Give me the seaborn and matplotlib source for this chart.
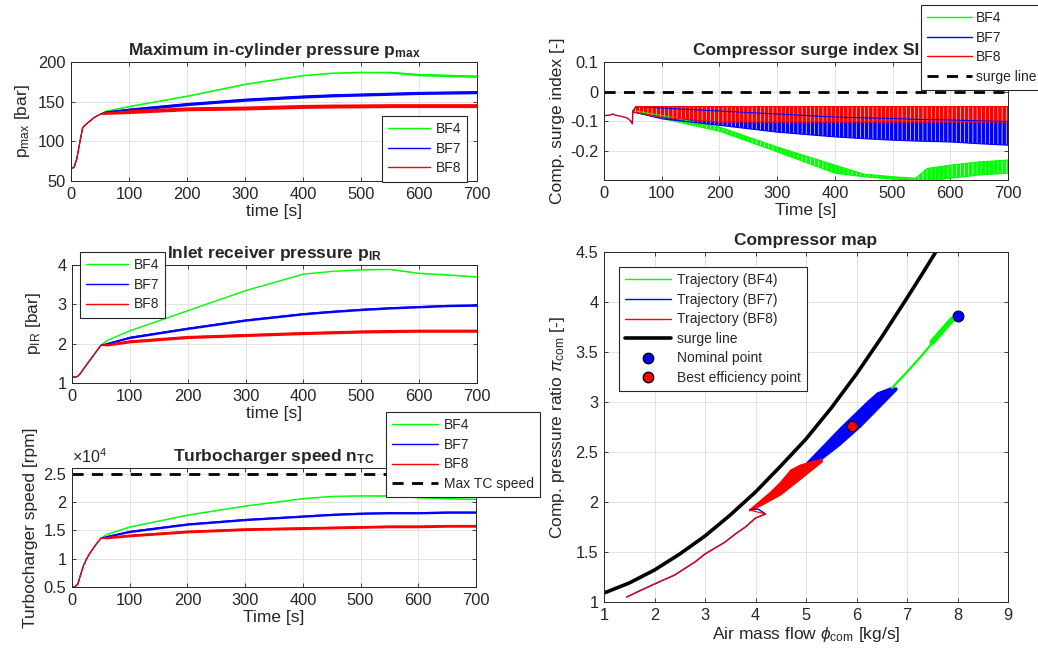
import numpy as np
import matplotlib
matplotlib.use("Agg")
import matplotlib.pyplot as plt
import seaborn as sns
from matplotlib.lines import Line2D

# Values
GREEN, BLUE, RED = "#00ff00", "#0000ff", "#ff0000"

t = [0, 5, 10, 15, 20, 25, 30, 40, 50, 60, 100, 200, 300, 400, 450, 500, 550, 600, 650, 700]
no_rip = [0, 0, 0, 0, 0, 0, 0, 0, 0]

# maximum in-cylinder pressure [bar]: mid line + half height of the ripple
pmax_rise = [66, 67, 78, 98, 117, 121, 124, 130, 134]
pmax_bf4 = pmax_rise + [138, 144, 157, 172, 183, 186, 187, 187, 184, 183, 182]
pmax_bf7 = pmax_rise + [137, 140, 147, 152.5, 156.5, 158, 159, 160, 161, 161.5, 162]
pmax_bf8 = pmax_rise + [136, 137.5, 141, 142, 144, 144.5, 144.7, 145, 145, 145, 145]
pmax_bf4_rip = no_rip + [0.5, 0.5, 0.5, 0.5, 0.5, 0.5, 0.5, 1, 1.5, 1.5, 1.5]
pmax_bf7_rip = no_rip + [1.5, 2, 2, 2, 2, 2, 2, 2, 2, 2, 2]
pmax_bf8_rip = no_rip + [2, 2.5, 2.5, 2.5, 2.5, 2.5, 2.5, 2.5, 2.5, 2.5, 2.5]

# inlet receiver pressure [bar]
pir_rise = [1.15, 1.15, 1.17, 1.25, 1.36, 1.46, 1.56, 1.76, 1.96]
pir_bf4 = pir_rise + [2.08, 2.33, 2.84, 3.35, 3.77, 3.84, 3.88, 3.89, 3.79, 3.75, 3.70]
pir_bf7 = pir_rise + [2.0, 2.16, 2.39, 2.6, 2.76, 2.82, 2.87, 2.91, 2.94, 2.97, 2.98]
pir_bf8 = pir_rise + [1.97, 2.06, 2.17, 2.22, 2.27, 2.29, 2.31, 2.32, 2.33, 2.33, 2.33]
pir_bf4_rip = no_rip + [0.005, 0.005, 0.005, 0.005, 0.005, 0.005, 0.005, 0.01, 0.01, 0.01, 0.01]
pir_bf7_rip = no_rip + [0.02, 0.03, 0.03, 0.03, 0.03, 0.03, 0.03, 0.03, 0.03, 0.03, 0.03]
pir_bf8_rip = no_rip + [0.03, 0.04, 0.04, 0.04, 0.04, 0.04, 0.04, 0.04, 0.04, 0.04, 0.04]

# turbocharger speed [x1e4 rpm]
ntc_rise = [0.5, 0.5, 0.55, 0.72, 0.88, 0.99, 1.08, 1.23, 1.36]
ntc_bf4 = ntc_rise + [1.43, 1.56, 1.77, 1.93, 2.06, 2.10, 2.11, 2.11, 2.08, 2.06, 2.05]
ntc_bf7 = ntc_rise + [1.39, 1.48, 1.61, 1.69, 1.75, 1.78, 1.80, 1.81, 1.81, 1.82, 1.82]
ntc_bf8 = ntc_rise + [1.37, 1.41, 1.48, 1.52, 1.54, 1.55, 1.56, 1.57, 1.57, 1.58, 1.58]
ntc_bf4_rip = no_rip + [0.005, 0.005, 0.005, 0.005, 0.005, 0.005, 0.005, 0.008, 0.008, 0.008, 0.008]
ntc_bf7_rip = no_rip + [0.015, 0.02, 0.02, 0.02, 0.02, 0.02, 0.02, 0.02, 0.02, 0.02, 0.02]
ntc_bf8_rip = no_rip + [0.02, 0.025, 0.025, 0.025, 0.025, 0.025, 0.025, 0.025, 0.025, 0.025, 0.025]
max_tc_speed = 2.49

# compressor surge index [-]
si_t_pre = [0, 10, 15, 20, 30, 40, 46, 49, 50]
si_pre = [-0.08, -0.079, -0.075, -0.079, -0.083, -0.088, -0.098, -0.108, -0.065]
si_t = [50, 55, 100, 200, 300, 400, 450, 500, 540, 560, 600, 650, 700]
si_bf4_hi = [-0.065, -0.065, -0.08, -0.119, -0.186, -0.247, -0.277, -0.286, -0.291, -0.258, -0.247, -0.236, -0.23]
si_bf4_lo = [-0.07, -0.07, -0.09, -0.133, -0.202, -0.274, -0.286, -0.294, -0.297, -0.3, -0.291, -0.28, -0.274]
si_bf7_hi = [-0.065, -0.05, -0.055, -0.065, -0.075, -0.085, -0.088, -0.09, -0.093, -0.094, -0.095, -0.098, -0.1]
si_bf7_lo = [-0.07, -0.07, -0.091, -0.113, -0.136, -0.152, -0.158, -0.163, -0.166, -0.167, -0.169, -0.175, -0.18]
si_bf8_hi = [-0.065, -0.05, -0.05, -0.05, -0.05, -0.05, -0.05, -0.05, -0.05, -0.05, -0.05, -0.05, -0.05]
si_bf8_lo = [-0.07, -0.07, -0.086, -0.102, -0.102, -0.102, -0.102, -0.102, -0.102, -0.102, -0.102, -0.102, -0.102]

# compressor map
surge_x = [1.0, 1.5, 2.0, 2.5, 3.0, 3.5, 4.0, 4.5, 5.0, 5.5, 6.0, 6.5, 7.0, 7.3, 7.57]
surge_y = [1.09, 1.19, 1.32, 1.48, 1.66, 1.87, 2.10, 2.36, 2.63, 2.94, 3.28, 3.65, 4.04, 4.28, 4.5]
start_x = [1.45, 1.7, 2.0, 2.4, 2.8, 3.0, 3.4, 3.6, 3.8, 4.0, 4.2, 4.05, 3.9]
start_y = [1.05, 1.11, 1.18, 1.27, 1.40, 1.48, 1.60, 1.68, 1.75, 1.84, 1.88, 1.93, 1.92]
bf4_map_x = [6.7, 7.0, 7.3, 7.55, 7.8, 8.0]
bf4_map_y = [3.14, 3.30, 3.47, 3.62, 3.76, 3.86]
bf4_thick_x = [7.5, 7.9]
bf4_thick_y = [3.60, 3.83]
bf7_up_x = [5.0, 5.03, 5.68, 6.21, 6.41, 6.67, 6.80]
bf7_up_y = [2.38, 2.40, 2.74, 3.00, 3.09, 3.14, 3.14]
bf7_lo_x = [5.0, 5.16, 5.35, 5.68, 6.08, 6.47, 6.80]
bf7_lo_y = [2.37, 2.40, 2.44, 2.57, 2.75, 2.95, 3.12]
bf8_up_x = [3.88, 4.3, 4.5, 4.7, 4.89, 5.1, 5.32]
bf8_up_y = [1.92, 2.10, 2.20, 2.32, 2.37, 2.40, 2.43]
bf8_lo_x = [3.88, 4.1, 4.5, 4.9, 5.32]
bf8_lo_y = [1.91, 1.96, 2.07, 2.23, 2.40]
nominal_point = (8.0, 3.86)
best_eff_point = (5.91, 2.76)

# ---- style ----
sns.set_theme(style="whitegrid")
plt.rcParams.update({
    "font.family": ["Liberation Sans", "DejaVu Sans"],
    "mathtext.fontset": "custom",
    "mathtext.rm": "Liberation Sans",
    "mathtext.it": "Liberation Sans:italic",
    "mathtext.bf": "Liberation Sans:bold",
    "font.size": 11.5,
    "axes.edgecolor": "#262626",
    "axes.linewidth": 0.7,
    "axes.labelcolor": "#262626",
    "axes.labelsize": 12.5,
    "xtick.color": "#262626",
    "ytick.color": "#262626",
    "xtick.labelsize": 11.8,
    "ytick.labelsize": 11.8,
    "grid.color": "#e3e3e3",
    "grid.linewidth": 0.7,
    "hatch.linewidth": 0.45,
    "legend.fontsize": 10,
    "legend.frameon": True,
    "legend.fancybox": False,
    "legend.edgecolor": "#262626",
    "legend.framealpha": 1.0,
})

W, H = 1038, 654
fig = plt.figure(figsize=(W / 100, H / 100), dpi=100)


def box(x0, y0, x1, y1):
    return [x0 / W, 1 - y1 / H, (x1 - x0) / W, (y1 - y0) / H]


def style(ax):
    ax.tick_params(direction="in", length=3, top=True, right=True, pad=4,
                   width=0.6, bottom=True, left=True)
    for sp in ax.spines.values():
        sp.set_linewidth(0.7)
        sp.set_color("#262626")


def rippled(ax, x, mid, rip, color, lw=0.9):
    mid = np.asarray(mid, float)
    rip = np.asarray(rip, float)
    ax.fill_between(x, mid - rip, mid + rip, color=color, lw=0)
    sns.lineplot(x=x, y=mid, color=color, lw=lw, ax=ax, legend=False)


def legend_at(ax, handles, x, y, **kw):
    opts = dict(loc="upper left", bbox_to_anchor=(x / W, 1 - y / H),
                bbox_transform=fig.transFigure, borderaxespad=0, handlelength=3.0,
                handletextpad=0.4, labelspacing=0.4, borderpad=0.45)
    opts.update(kw)
    leg = ax.legend(handles=handles, **opts)
    leg.get_frame().set_linewidth(0.8)
    return leg


def bf_handles(extra=None):
    hs = [Line2D([], [], color=GREEN, lw=1, label="BF4"),
          Line2D([], [], color=BLUE, lw=1, label="BF7"),
          Line2D([], [], color=RED, lw=1, label="BF8")]
    if extra:
        hs.append(extra)
    return hs


time_ticks = [0, 100, 200, 300, 400, 500, 600, 700]
title_kw = dict(fontsize=12.5, fontweight="bold", pad=5)

# --- Maximum in-cylinder pressure ---
ax1 = fig.add_axes(box(71, 62, 477, 181))
rippled(ax1, t, pmax_bf4, pmax_bf4_rip, GREEN)
rippled(ax1, t, pmax_bf7, pmax_bf7_rip, BLUE)
rippled(ax1, t, pmax_bf8, pmax_bf8_rip, RED)
ax1.set_xlim(0, 700)
ax1.set_ylim(50, 200)
ax1.set_xticks(time_ticks)
ax1.set_yticks([50, 100, 150, 200])
ax1.set_xlabel("time [s]", labelpad=2)
ax1.set_ylabel(r"p$_{\mathrm{max}}$ [bar]", labelpad=4)
ax1.set_title(r"Maximum in-cylinder pressure p$_{\mathbf{max}}$", **title_kw)
style(ax1)
legend_at(ax1, bf_handles(), 382, 116)

# --- Inlet receiver pressure ---
ax2 = fig.add_axes(box(72, 265, 477, 383))
rippled(ax2, t, pir_bf4, pir_bf4_rip, GREEN)
rippled(ax2, t, pir_bf7, pir_bf7_rip, BLUE)
rippled(ax2, t, pir_bf8, pir_bf8_rip, RED)
ax2.set_xlim(0, 700)
ax2.set_ylim(1, 4)
ax2.set_xticks(time_ticks)
ax2.set_yticks([1, 2, 3, 4])
ax2.set_xlabel("time [s]", labelpad=2)
ax2.set_ylabel(r"p$_{\mathrm{IR}}$ [bar]", labelpad=10)
ax2.set_title(r"Inlet receiver pressure p$_{\mathbf{IR}}$", **title_kw)
style(ax2)
legend_at(ax2, bf_handles(), 80, 252)

# --- Turbocharger speed ---
ax3 = fig.add_axes(box(72, 468, 476, 587))
sns.lineplot(x=[0, 700], y=[max_tc_speed, max_tc_speed], color="black", lw=2,
             ax=ax3, legend=False, linestyle=(0, (4, 3)))
rippled(ax3, t, ntc_bf4, ntc_bf4_rip, GREEN)
rippled(ax3, t, ntc_bf7, ntc_bf7_rip, BLUE)
rippled(ax3, t, ntc_bf8, ntc_bf8_rip, RED)
ax3.set_xlim(0, 700)
ax3.set_ylim(0.5, 2.6)
ax3.set_xticks(time_ticks)
ax3.set_yticks([0.5, 1, 1.5, 2, 2.5])
ax3.set_yticklabels(["0.5", "1", "1.5", "2", "2.5"])
ax3.set_xlabel("Time [s]", labelpad=2)
ax3.set_ylabel("Turbocharger speed [rpm]", labelpad=4)
ax3.set_title(r"Turbocharger speed n$_{\mathbf{TC}}$", **title_kw)
ax3.text(0.0, 1.015, r"$\times10^{4}$", transform=ax3.transAxes, ha="left", va="bottom",
         fontsize=11.5, color="#262626")
style(ax3)
legend_at(ax3, bf_handles(Line2D([], [], color="black", lw=2, linestyle=(0, (4, 3)),
                                 label="Max TC speed")), 386, 412, handlelength=3.3)

# --- Compressor surge index ---
ax4 = fig.add_axes(box(604, 62, 1008, 180))
sns.lineplot(x=[0, 700], y=[0, 0], color="black", lw=2, ax=ax4, legend=False,
             linestyle=(0, (4, 3)))
for lo, hi, col in [(si_bf4_lo, si_bf4_hi, GREEN), (si_bf7_lo, si_bf7_hi, BLUE),
                    (si_bf8_lo, si_bf8_hi, RED)]:
    ax4.fill_between(si_t, lo, hi, facecolor=col, edgecolor="white", hatch="||||", lw=0)
    sns.lineplot(x=si_t, y=lo, color=col, lw=0.8, ax=ax4, legend=False)
    sns.lineplot(x=si_t, y=hi, color=col, lw=0.8, ax=ax4, legend=False)
sns.lineplot(x=si_t_pre, y=si_pre, color="#c00030", lw=1, ax=ax4, legend=False,
             sort=False, estimator=None)
ax4.set_xlim(0, 700)
ax4.set_ylim(-0.297, 0.1)
ax4.set_xticks(time_ticks)
ax4.set_yticks([-0.2, -0.1, 0, 0.1])
ax4.set_yticklabels(["-0.2", "-0.1", "0", "0.1"])
ax4.set_xlabel("Time [s]", labelpad=2)
ax4.set_ylabel("Comp. surge index [-]", labelpad=4)
ax4.set_title("Compressor surge index SI", **title_kw)
style(ax4)
legend_at(ax4, bf_handles(Line2D([], [], color="black", lw=2, linestyle=(0, (4, 3)),
                                 label="surge line")), 921, 5, handlelength=3.2,
          handletextpad=0.3)

# --- Compressor map ---
ax5 = fig.add_axes(box(604, 252, 1008, 602))
sns.lineplot(x=surge_x, y=surge_y, color="black", lw=2.6, ax=ax5, legend=False,
             sort=False, estimator=None)
sns.lineplot(x=bf4_map_x, y=bf4_map_y, color=GREEN, lw=1.6, ax=ax5, legend=False,
             sort=False, estimator=None)
sns.lineplot(x=bf4_thick_x, y=bf4_thick_y, color=GREEN, lw=4, ax=ax5, legend=False,
             sort=False, estimator=None)
sns.lineplot(x=start_x, y=start_y, color=BLUE, lw=1, ax=ax5, legend=False,
             sort=False, estimator=None)
ax5.fill(bf7_up_x + bf7_lo_x[::-1], bf7_up_y + bf7_lo_y[::-1], color=BLUE, lw=0.8)
sns.lineplot(x=start_x[:-2], y=start_y[:-2], color=RED, lw=0.9, ax=ax5, legend=False,
             sort=False, estimator=None)
sns.lineplot(x=[start_x[-3], bf8_up_x[0]], y=[start_y[-3], bf8_up_y[0]], color=RED, lw=0.9,
             ax=ax5, legend=False, sort=False, estimator=None)
ax5.fill(bf8_up_x + bf8_lo_x[::-1], bf8_up_y + bf8_lo_y[::-1], color=RED, lw=0.8)
sns.scatterplot(x=[nominal_point[0]], y=[nominal_point[1]], color=BLUE, s=60,
                edgecolor="black", linewidth=0.8, ax=ax5, zorder=5, legend=False)
sns.scatterplot(x=[best_eff_point[0]], y=[best_eff_point[1]], color=RED, s=55,
                edgecolor="black", linewidth=0.8, ax=ax5, zorder=5, legend=False)
ax5.set_xlim(1, 9)
ax5.set_ylim(1, 4.5)
ax5.set_xticks(range(1, 10))
ax5.set_yticks([1, 1.5, 2, 2.5, 3, 3.5, 4, 4.5])
ax5.set_yticklabels(["1", "1.5", "2", "2.5", "3", "3.5", "4", "4.5"])
ax5.set_xlabel(r"Air mass flow $\phi_{\mathrm{com}}$ [kg/s]", labelpad=2)
ax5.set_ylabel(r"Comp. pressure ratio $\pi_{\mathrm{com}}$ [-]", labelpad=6)
ax5.set_title("Compressor map", **title_kw)
style(ax5)
map_handles = [
    Line2D([], [], color=GREEN, lw=1, label="Trajectory (BF4)"),
    Line2D([], [], color=BLUE, lw=1, label="Trajectory (BF7)"),
    Line2D([], [], color=RED, lw=1, label="Trajectory (BF8)"),
    Line2D([], [], color="black", lw=2.6, label="surge line"),
    Line2D([], [], color=BLUE, marker="o", lw=0, markersize=7.5, markeredgecolor="black",
           label="Nominal point"),
    Line2D([], [], color=RED, marker="o", lw=0, markersize=7.5, markeredgecolor="black",
           label="Best efficiency point"),
]
legend_at(ax5, map_handles, 619, 267, handlelength=3.3)

fig.savefig("out.png", dpi=100)
